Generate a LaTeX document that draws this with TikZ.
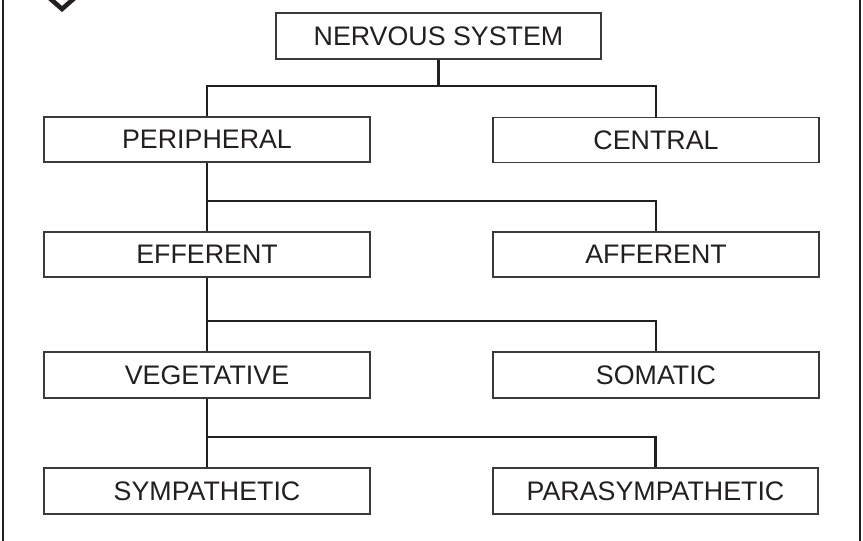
\documentclass[tikz,border=0pt]{standalone}
\usepackage{fontspec}
\setmainfont{Liberation Sans}
\definecolor{ink}{HTML}{231F20}
\definecolor{boxline}{HTML}{3A3A3A}
\begin{document}
\begin{tikzpicture}[x=1pt,y=-1pt,
  box/.style={draw=boxline,line width=1.3pt,fill=white,minimum height=45pt,
    inner sep=0pt,text=ink,font=\fontsize{26.8}{29}\selectfont},
  lbox/.style={box,minimum width=326pt},
  conn/.style={draw=ink,line width=2.6pt},
  frame/.style={draw=ink,line width=2.6pt}]
\useasboundingbox (0,0) rectangle (863,541);
% frame and chevron
\draw[frame] (3,-2) -- (3,543);
\draw[frame] (860,-2) -- (860,543);
\draw[draw=ink,line width=4.6pt,miter limit=10] (46,-5) -- (62,9) -- (78,-5);
% nodes
\node[box,minimum width=325pt,minimum height=46pt] (ns) at (438.5,36) {NERVOUS SYSTEM};
\node[lbox] (per) at (207,139.5) {PERIPHERAL};
\node[lbox] (cen) at (656,140) {CENTRAL};
\node[lbox] (eff) at (207,254.5) {EFFERENT};
\node[lbox] (aff) at (656,254.5) {AFFERENT};
\node[lbox,minimum height=46pt] (veg) at (207,375) {VEGETATIVE};
\node[lbox,minimum height=46pt] (som) at (656,375) {SOMATIC};
\node[lbox,minimum height=46pt] (sym) at (207,491) {SYMPATHETIC};
\node[lbox,minimum width=325pt,minimum height=46pt] (par) at (655.5,491) {PARASYMPATHETIC};
% connectors
\draw[conn] (ns.south) -- (ns.south |- 0,86);
\draw[conn] (per.north) -- (per.north |- 0,86) -| (cen.north);
\draw[conn] (per.south) -- (per.south |- 0,201) -| (aff.north);
\draw[conn] (per.south |- 0,201) -- (eff.north);
\draw[conn] (eff.south) -- (eff.south |- 0,321) -| (som.north);
\draw[conn] (eff.south |- 0,321) -- (veg.north);
\draw[conn] (veg.south) -- (veg.south |- 0,437) -| (par.north);
\draw[conn] (veg.south |- 0,437) -- (sym.north);
\end{tikzpicture}
\end{document}
